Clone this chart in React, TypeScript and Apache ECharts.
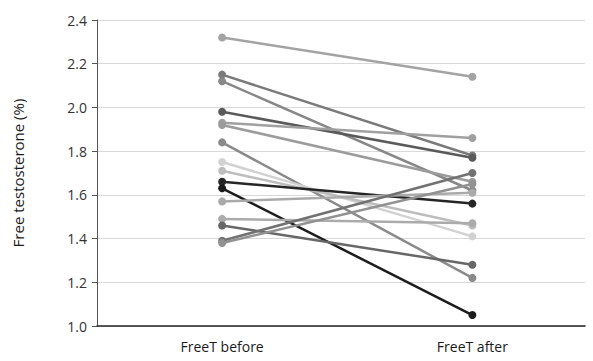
import React, { useEffect, useRef } from "react";
import * as echarts from "echarts";

const categories = ["FreeT before", "FreeT after"];
const beforeValues = [2.32, 2.15, 2.12, 1.98, 1.93, 1.92, 1.84, 1.75, 1.71, 1.66, 1.63, 1.57, 1.49, 1.46, 1.39, 1.38];
const afterValues = [2.14, 1.78, 1.62, 1.77, 1.86, 1.66, 1.22, 1.41, 1.46, 1.56, 1.05, 1.61, 1.47, 1.28, 1.70, 1.65];
const lineColors = [
  "#a3a3a3", "#7a7a7a", "#888888", "#5a5a5a", "#a0a0a0", "#9c9c9c", "#8a8a8a", "#d2d2d2",
  "#bdbdbd", "#262626", "#1c1c1c", "#aaaaaa", "#ababab", "#676767", "#727272", "#929292",
];
const yTicks = [1.0, 1.2, 1.4, 1.6, 1.8, 2.0, 2.2, 2.4];

export default function App() {
  const ref = useRef<HTMLDivElement>(null);
  useEffect(() => {
    if (!ref.current) return;
    const chart = echarts.init(ref.current, null, { renderer: "svg" });
    const series = beforeValues.map((b, i) => ({
      type: "line",
      data: [
        [0, b],
        [1, afterValues[i]],
      ],
      symbol: "circle",
      symbolSize: 8,
      lineStyle: { color: lineColors[i], width: 2.5 },
      itemStyle: { color: lineColors[i] },
      emphasis: { disabled: true },
      z: 3,
    }));
    chart.setOption({
      animation: false,
      grid: { left: 97, top: 20, right: 8, bottom: 35, containLabel: false },
      xAxis: {
        type: "value",
        min: -0.5,
        max: 1.45,
        interval: 0.5,
        axisLine: { show: true, onZero: false, lineStyle: { color: "#222", width: 1.5 } },
        axisTick: { show: false },
        splitLine: { show: false },
        axisLabel: {
          margin: 13,
          fontFamily: "Open Sans",
          fontSize: 14,
          color: "#1a1a1a",
          formatter: (v: number) => (Math.abs(v) < 1e-9 ? categories[0] : Math.abs(v - 1) < 1e-9 ? categories[1] : ""),
        },
      },
      yAxis: {
        type: "value",
        min: yTicks[0],
        max: yTicks[yTicks.length - 1],
        interval: 0.2,
        name: "Free testosterone (%)",
        nameLocation: "middle",
        nameGap: 72,
        nameTextStyle: { fontFamily: "Open Sans", fontSize: 15, color: "#1a1a1a" },
        axisLine: { show: true, onZero: false, lineStyle: { color: "#555", width: 1 } },
        axisTick: { show: true, length: 5, lineStyle: { color: "#555" } },
        splitLine: { show: true, lineStyle: { color: "#d9d9d9", width: 1 } },
        axisLabel: {
          margin: 10,
          fontFamily: "Open Sans",
          fontSize: 14,
          color: "#333",
          formatter: (v: number) => v.toFixed(1),
        },
      },
      series,
    });
    return () => chart.dispose();
  }, []);
  return <div ref={ref} style={{ width: 593, height: 361, position: "absolute", left: 0, top: 0 }} />;
}
